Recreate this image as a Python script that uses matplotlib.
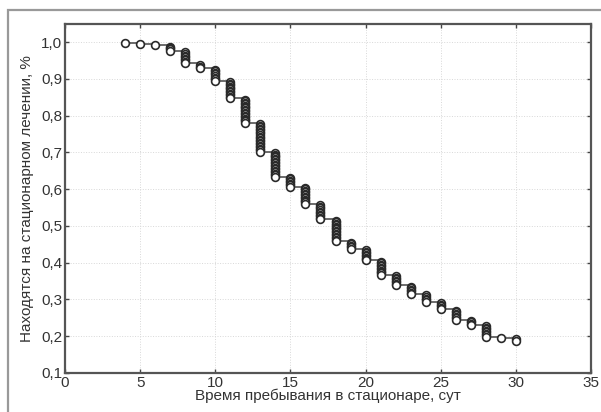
import numpy as np
import matplotlib.pyplot as plt
from matplotlib.patches import Rectangle
from matplotlib.ticker import FuncFormatter

# время выписки (сутки) и доля пациентов, оставшихся в стационаре после этого дня
days = [4, 5, 6, 7, 8, 9, 10, 11, 12, 13, 14, 15, 16, 17, 18, 19, 20,
        21, 22, 23, 24, 25, 26, 27, 28, 29, 30]
share = [0.996, 0.994, 0.991, 0.976, 0.942, 0.929, 0.895, 0.847, 0.780, 0.702,
         0.634, 0.607, 0.560, 0.518, 0.459, 0.437, 0.406, 0.367, 0.338, 0.315,
         0.294, 0.274, 0.245, 0.231, 0.199, 0.195, 0.188]
# число выписанных в каждый день (кружки на вертикальном участке)
discharged = [1, 1, 1, 4, 8, 3, 8, 12, 17, 19, 17, 7, 12, 10, 15, 5, 8,
              10, 7, 6, 5, 5, 7, 4, 8, 1, 2]

plt.rcParams['font.family'] = ['Liberation Sans', 'DejaVu Sans']

fig = plt.figure(figsize=(6.01, 4.12), dpi=100)
ax = fig.add_axes([65 / 601, 1 - 373 / 412, 526 / 601, 349 / 412])

line_col = '#444444'
ax.step(days, share, where='post', color=line_col, lw=1.1, zorder=2)

# вертикальные участки: по кружку на каждого выписанного
prev = 1.0
for d, s, n in zip(days, share, discharged):
    ax.plot([d, d], [prev, s], color=line_col, lw=1.1, zorder=2)
    ys = prev - (prev - s) * np.arange(1, n + 1) / n
    ax.plot([d] * n, ys, 'o', ms=5.6, mfc='white', mec='#2a2a2a', mew=1.2,
            zorder=3)
    prev = s

ax.set_xlim(0, 35)
ax.set_ylim(0.1, 1.049)
ax.set_xticks(range(0, 36, 5))
ax.set_yticks(np.arange(0.1, 1.01, 0.1))
ax.yaxis.set_major_formatter(FuncFormatter(lambda v, p: f'{v:.1f}'.replace('.', ',')))

ax.grid(True, color='#d8d8d8', lw=0.7, ls=':')
ax.set_axisbelow(True)
ax.tick_params(direction='in', length=3, width=1, colors='#444444',
               labelcolor='#333333', labelsize=11, top=True, right=True,
               pad=2)
for sp in ax.spines.values():
    sp.set_color('#555555')
    sp.set_linewidth(1.6)

ax.set_xlabel('Время пребывания в стационаре, сут', fontsize=11,
              color='#333333', labelpad=-1)
ax.set_ylabel('Находятся на стационарном лечении, %', fontsize=11,
              color='#333333', labelpad=5)

# рамка вокруг всего рисунка
fig.patches.append(Rectangle((8 / 601, -0.1), 1.2, 1.1 - 10 / 412,
                             transform=fig.transFigure, fill=False,
                             edgecolor='#999999', lw=1.6))

fig.savefig('out.png', dpi=100)
